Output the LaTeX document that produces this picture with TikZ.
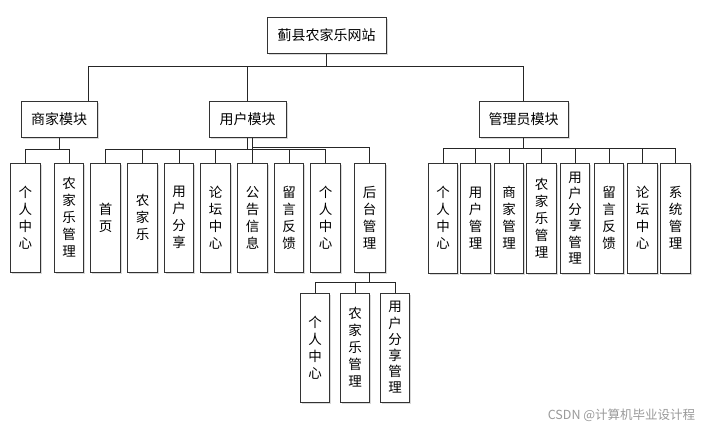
\documentclass[tikz,border=0pt]{standalone}
\usepackage{fontspec}
\newfontfamily\cjk{Noto Sans CJK SC}
\usetikzlibrary{shadows}
\begin{document}
\begin{tikzpicture}[x=1pt,y=-1pt,
  boxbase/.style={draw=black!80, line width=1pt, fill=white, inner sep=0pt,
    drop shadow={shadow xshift=1.5pt, shadow yshift=-1.5pt, fill=black, opacity=0.15}},
  hbox/.style={boxbase, minimum height=36pt, font=\cjk\fontsize{14}{16}\selectfont},
  vbox/.style={boxbase, minimum width=29.5pt, minimum height=109pt, align=center,
    font=\cjk\fontsize{13.5}{17}\selectfont},
  conn/.style={draw=black!85, line width=1pt}]
\useasboundingbox (0,0) rectangle (710,429);
% top
\node[hbox, minimum width=119pt] (title) at (326.5,35) {蓟县农家乐网站};
\node[hbox, minimum width=76pt] (m1) at (59,119) {商家模块};
\node[hbox, minimum width=77pt] (m2) at (247.5,119) {用户模块};
\node[hbox, minimum width=89pt] (m3) at (523.5,119) {管理员模块};
% merchant children
\node[vbox] (s1) at (25.5,217.5) {个\\人\\中\\心};
\node[vbox] (s2) at (69,217.5) {农\\家\\乐\\管\\理};
% user children
\node[vbox] (u1) at (105.5,217.5) {首\\页};
\node[vbox] (u2) at (142.5,217.5) {农\\家\\乐};
\node[vbox] (u3) at (179,217.5) {用\\户\\分\\享};
\node[vbox] (u4) at (215.5,217.5) {论\\坛\\中\\心};
\node[vbox] (u5) at (252.5,217.5) {公\\告\\信\\息};
\node[vbox] (u6) at (289,217.5) {留\\言\\反\\馈};
\node[vbox] (u7) at (325.5,217.5) {个\\人\\中\\心};
\node[vbox, minimum width=31pt] (u8) at (369.5,217.5) {后\\台\\管\\理};
% admin children
\node[vbox, minimum height=110pt] (a1) at (443,218) {个\\人\\中\\心};
\node[vbox, minimum height=110pt] (a2) at (475.5,218) {用\\户\\管\\理};
\node[vbox, minimum height=110pt] (a3) at (509,218) {商\\家\\管\\理};
\node[vbox, minimum height=110pt] (a4) at (541.5,218) {农\\家\\乐\\管\\理};
\node[vbox, minimum height=110pt, font=\cjk\fontsize{13.5}{16.2}\selectfont] (a5) at (575,218) {用\\户\\分\\享\\管\\理};
\node[vbox, minimum height=110pt] (a6) at (609,218) {留\\言\\反\\馈};
\node[vbox, minimum height=110pt] (a7) at (642.5,218) {论\\坛\\中\\心};
\node[vbox, minimum height=110pt] (a8) at (675.5,218) {系\\统\\管\\理};
% back-end children
\node[vbox] (b1) at (315,347.5) {个\\人\\中\\心};
\node[vbox] (b2) at (355,347.5) {农\\家\\乐\\管\\理};
\node[vbox, font=\cjk\fontsize{13.5}{16.2}\selectfont] (b3) at (395,347.5) {用\\户\\分\\享\\管\\理};
% watermark
\node[text=black!40, font=\cjk\fontsize{12.5}{14}\selectfont, inner sep=0pt] (wm) at (621.5,415) {CSDN @计算机毕业设计程};
% level coordinates
\coordinate (bx) at (88,66);
\coordinate (sy) at (0,149);
\coordinate (sy2) at (0,147);
\coordinate (ay) at (0,148);
\coordinate (by) at (0,282.5);
% connectors level 1
\draw[conn] (title.south) -- (title.south |- bx);
\draw[conn] (m1.north -| bx) |- (m3.north |- bx) -- (m3.north);
\draw[conn] (m2.north) -- (m2.north |- bx);
% merchant
\draw[conn] (m1.south) -- (m1.south |- sy);
\draw[conn] (s1.north) |- (s2.north |- sy) -- (s2.north);
% user tree
\draw[conn] ([xshift=-0.5pt]m2.south) -- ([xshift=-0.5pt]m2.south |- sy);
\draw[conn] (u1.north) |- (u7.north |- sy) -- (u7.north);
\foreach \n in {u2,u3,u4,u6} \draw[conn] (\n.north) -- (\n.north |- sy);
\draw[conn] (u5.north |- m2.south) -- (u5.north);
\draw[conn] (u5.north |- sy2) -| (u8.north);
% admin tree
\draw[conn] (m3.south) -- (m3.south |- ay);
\draw[conn] (a1.north) |- (a8.north |- ay) -- (a8.north);
\foreach \n in {a2,a3,a4,a5,a6,a7} \draw[conn] (\n.north) -- (\n.north |- ay);
% back-end tree
\draw[conn] (u8.south) -- (u8.south |- by);
\draw[conn] (b1.north) |- (b3.north |- by) -- (b3.north);
\draw[conn] (b2.north) -- (b2.north |- by);
\end{tikzpicture}
\end{document}
